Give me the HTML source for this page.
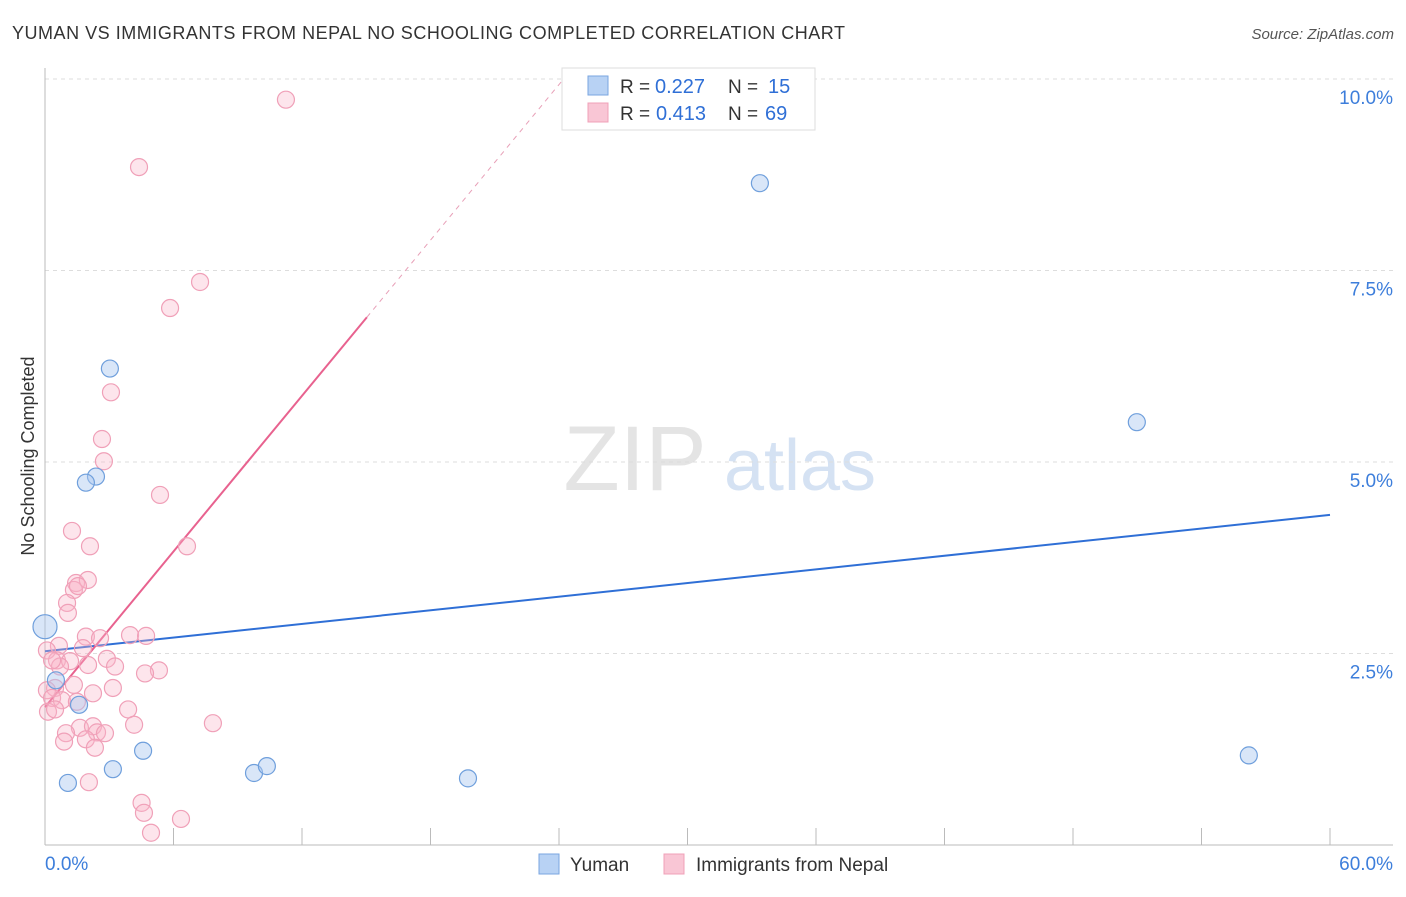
<!DOCTYPE html>
<html><head><meta charset="utf-8"><style>
body{margin:0;background:#fff;font-family:"Liberation Sans",sans-serif;}
svg text{font-family:"Liberation Sans",sans-serif;}
</style></head><body>
<svg id="chart" width="1406" height="892" viewBox="0 0 1406 892">
<text x="12" y="39" font-size="18" fill="#333" textLength="833" lengthAdjust="spacing">YUMAN VS IMMIGRANTS FROM NEPAL NO SCHOOLING COMPLETED CORRELATION CHART</text>
<text x="1394" y="39" font-size="15" fill="#555" font-style="italic" text-anchor="end">Source: ZipAtlas.com</text>
<text x="34" y="456" font-size="18" fill="#333" text-anchor="middle" transform="rotate(-90 34 456)">No Schooling Completed</text>
<g><text x="635" y="490" font-size="92" fill="#e4e4e4" font-family="Liberation Serif" text-anchor="middle">ZIP</text><text x="800" y="490" font-size="72" fill="#d5e2f3" text-anchor="middle">atlas</text></g>
<g id="grid"></g><g id="axes"></g><g id="lines"></g><g id="pts"></g>
<g>
<rect x="562" y="68" width="253" height="62" fill="#fff" stroke="#ddd"/>
<rect x="588" y="76" width="20" height="19" fill="#b8d2f4" stroke="#7aa6e0"/>
<rect x="588" y="103" width="20" height="19" fill="#f9c6d5" stroke="#f0a0b8"/>
<text x="620" y="93" font-size="19" fill="#333">R =</text><text x="655" y="93" font-size="20" fill="#2f6fd6">0.227</text>
<text x="728" y="93" font-size="19" fill="#333">N =</text><text x="768" y="93" font-size="20" fill="#2f6fd6">15</text>
<text x="620" y="120" font-size="19" fill="#333">R =</text><text x="656" y="120" font-size="20" fill="#2f6fd6">0.413</text>
<text x="728" y="120" font-size="19" fill="#333">N =</text><text x="765" y="120" font-size="20" fill="#2f6fd6">69</text>
</g>
<g>
<rect x="539" y="854" width="20" height="20" fill="#b8d2f4" stroke="#7aa6e0"/>
<text x="570" y="871" font-size="19" fill="#333">Yuman</text>
<rect x="664" y="854" width="20" height="20" fill="#f9c6d5" stroke="#f0a0b8"/>
<text x="696" y="871" font-size="19" fill="#333">Immigrants from Nepal</text>
</g>
</svg>
<script>
const yTicks=[2.5,5,7.5,10];
const yTickLabels=["2.5%","5.0%","7.5%","10.0%"];
const xTickLabels=["0.0%","60.0%"];
const yumanX=[0,3.03,2.38,1.91,1.59,0.51,1.07,3.17,4.58,9.76,10.36,19.75,33.38,50.98,56.21];
const yumanY=[2.85,6.22,4.81,4.73,1.83,2.15,0.81,0.99,1.23,0.94,1.03,0.87,8.64,5.52,1.17];
const nepalX=[11.25,4.39,7.24,5.84,3.08,2.66,2.75,5.37,1.26,6.63,2.10,1.45,2.0,1.35,1.54,1.03,1.07,3.97,4.72,1.91,2.57,0.65,1.77,0.09,0.56,1.17,2.89,2.01,3.27,0.70,0.33,5.32,4.67,1.35,0.47,2.24,3.17,0.09,0.33,0.79,1.49,0.14,0.47,3.88,7.84,4.16,1.63,2.24,2.43,0.98,2.80,1.91,0.89,2.33,2.05,4.51,4.62,6.35,4.95];
const nepalY=[9.73,8.85,7.35,7.01,5.91,5.30,5.01,4.57,4.10,3.90,3.90,3.42,3.46,3.33,3.38,3.16,3.03,2.74,2.73,2.72,2.70,2.60,2.57,2.54,2.41,2.40,2.43,2.35,2.33,2.33,2.41,2.28,2.24,2.09,2.05,1.98,2.05,2.02,1.92,1.89,1.87,1.74,1.77,1.77,1.59,1.57,1.53,1.55,1.47,1.46,1.46,1.38,1.35,1.27,0.82,0.55,0.42,0.34,0.16];
const blueFit=[2.53,4.31];
const pinkFit=[1.80,6.89];
const pinkFitEnd=15.03;
const X=v=>45+v*1285/60, Y=v=>845-v*76.6;
const NS="http://www.w3.org/2000/svg";
function mk(p,t,a){const e=document.createElementNS(NS,t);for(const k in a)e.setAttribute(k,a[k]);document.getElementById(p).appendChild(e);return e;}
yTicks.forEach((t,i)=>{
 const l=mk('grid','line',{x1:45,x2:1393,y1:Y(t),y2:Y(t),stroke:'#ddd','stroke-dasharray':'4,4'});
 
 
 const tx=mk('grid','text',{x:1393,y:Y(t)+25,'font-size':19,fill:'#3d7edb','text-anchor':'end'});tx.textContent=yTickLabels[i];
 
 
});
mk('axes','line',{x1:45,x2:45,y1:68,y2:845,stroke:'#bbb'});
mk('axes','line',{x1:45,x2:1393,y1:845,y2:845,stroke:'#bbb'});
for(let i=1;i<=10;i++){mk('axes','line',{x1:X(i*6),x2:X(i*6),y1:828,y2:845,stroke:'#bbb'});}
const xl0=mk('axes','text',{x:45,y:870,'font-size':19,fill:'#3d7edb'});xl0.textContent=xTickLabels[0];


const xl1=mk('axes','text',{x:1393,y:870,'font-size':19,fill:'#3d7edb','text-anchor':'end'});xl1.textContent=xTickLabels[1];


const bl=mk('lines','line',{x1:X(0),y1:Y(blueFit[0]),x2:X(60),y2:Y(blueFit[1]),stroke:'#2f6fd6','stroke-width':2});


const slope=(pinkFit[1]-pinkFit[0])/pinkFitEnd;
const pl=mk('lines','line',{x1:X(0),y1:Y(pinkFit[0]),x2:X(pinkFitEnd),y2:Y(pinkFit[1]),stroke:'#e8628f','stroke-width':2});


const xe=(10.05-pinkFit[0])/slope;
const pd=mk('lines','line',{x1:X(pinkFitEnd),y1:Y(pinkFit[1]),x2:X(xe),y2:Y(10.05),stroke:'#e8a0b8','stroke-width':1,'stroke-dasharray':'5,5'});


nepalX.forEach((v,i)=>{const c=mk('pts','circle',{cx:X(v),cy:Y(nepalY[i]),r:8.5,fill:'rgba(248,180,200,0.35)',stroke:'#f0a0b8','stroke-width':1.2});
 
 });
yumanX.forEach((v,i)=>{const c=mk('pts','circle',{cx:X(v),cy:Y(yumanY[i]),r:i==0?12:8.5,fill:'rgba(170,200,240,0.45)',stroke:'#6f9fdc','stroke-width':1.2});
 
 });
</script>
</body></html>
